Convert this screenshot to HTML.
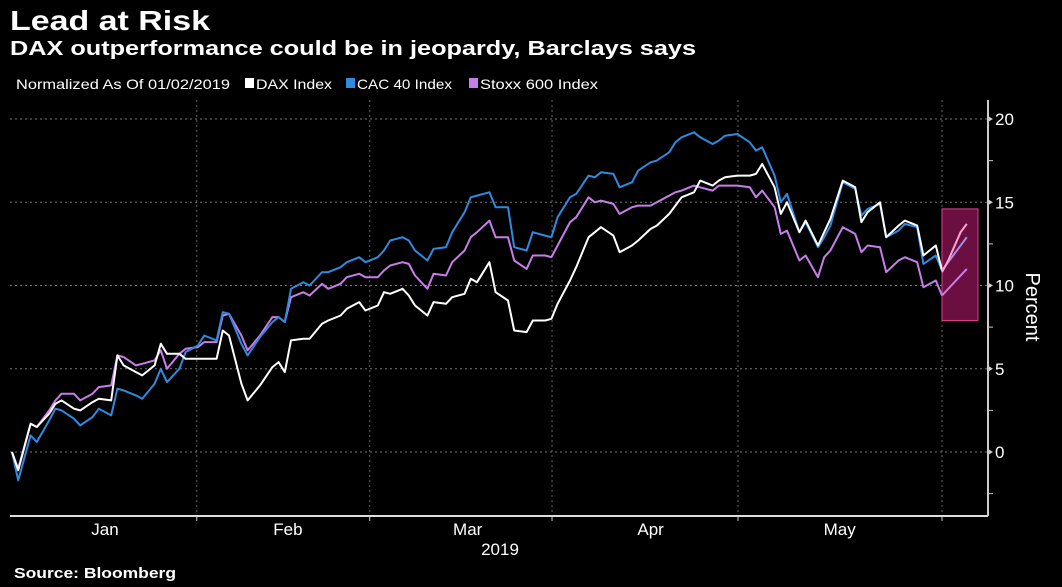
<!DOCTYPE html>
<html><head><meta charset="utf-8"><style>
html,body{margin:0;padding:0;background:#000;}
svg{display:block;}
text{font-family:"Liberation Sans",sans-serif;fill:#fff;}
</style></head><body>
<svg id="chart" width="1062" height="587" viewBox="0 0 1062 587" xmlns="http://www.w3.org/2000/svg">
<rect width="1062" height="587" fill="#000"/>
<text x="10" y="30" font-size="28" font-weight="bold" textLength="200" lengthAdjust="spacingAndGlyphs">Lead at Risk</text>
<text x="10" y="55" font-size="20" font-weight="bold" textLength="686" lengthAdjust="spacingAndGlyphs">DAX outperformance could be in jeopardy, Barclays says</text>
<g>
<text x="16" y="89" font-size="14" textLength="214" lengthAdjust="spacingAndGlyphs">Normalized As Of 01/02/2019</text>
<rect x="245" y="78" width="9" height="10" fill="#fff"/>
<text x="256" y="89" font-size="14" textLength="76" lengthAdjust="spacingAndGlyphs">DAX Index</text>
<rect x="346" y="78" width="9" height="10" fill="#2f8ae0"/>
<text x="357" y="89" font-size="14" textLength="95" lengthAdjust="spacingAndGlyphs">CAC 40 Index</text>
<rect x="469" y="78" width="9" height="10" fill="#c77dea"/>
<text x="480" y="89" font-size="14" textLength="118" lengthAdjust="spacingAndGlyphs">Stoxx 600 Index</text>
</g>
<g id="grid"></g>
<g id="series"></g>
<g id="axes"></g>
<text x="500" y="555" font-size="17" text-anchor="middle">2019</text>
<text transform="translate(1026,307) rotate(90)" font-size="20" text-anchor="middle">Percent</text>
<text x="14" y="578" font-size="15" font-weight="bold" textLength="162" lengthAdjust="spacingAndGlyphs">Source: Bloomberg</text>
</svg>
<script>
const days=[2,3,5,6,8,9,10,12,13,15,16,18,19,20,22,23,25,26,27,29,30,32,33,35,36,37,39,40,42,44,45,46,47,49,50,52,53,55,56,58,59,61,62,63,65,66,67,69,70,72,73,75,76,77,79,80,82,83,85,86,88,89,90,92,93,95,96,97,99,100,102,103,105,106,108,109,110,112,113,115,116,117,119,121,122,123,125,126,127,129,130,132,133,134,136,138,139,140,142,143,145,146,148,149,151,152];
const daxVals=[0,-1.1,1.7,1.5,2.3,2.9,3.1,2.6,2.5,3.0,3.2,3.1,5.8,5.2,4.8,4.6,5.2,6.5,5.9,5.9,5.6,5.6,5.6,5.6,7.3,7.0,4.1,3.1,4.0,5.1,5.4,4.8,6.7,6.8,6.8,7.7,7.9,8.2,8.6,9.0,8.5,8.8,9.6,9.5,9.8,9.4,8.8,8.2,9.0,8.9,9.3,9.5,10.4,10.2,11.4,9.6,9.1,7.3,7.2,7.9,7.9,8.0,8.9,10.3,11.1,12.9,13.2,13.5,13.0,12.0,12.4,12.7,13.4,13.6,14.3,14.8,15.3,15.6,16.3,16.0,16.3,16.5,16.6,16.6,16.7,17.3,15.9,14.3,15.0,13.2,13.9,12.4,13.2,14.0,16.3,15.9,13.8,14.4,15.0,12.9,13.6,13.9,13.6,11.8,12.4,10.9];
const cacVals=[0,-1.7,1.0,0.6,1.9,2.6,2.5,2.0,1.6,2.1,2.6,2.2,3.8,3.7,3.4,3.2,4.1,5.0,4.2,5.0,6.0,6.4,7.0,6.7,8.4,8.3,6.5,5.8,6.9,7.8,8.1,7.8,9.8,10.2,10.0,10.8,10.8,11.1,11.4,11.7,11.4,11.7,12.1,12.7,12.9,12.7,12.1,11.5,12.2,12.3,13.2,14.4,15.3,15.4,15.6,14.7,14.7,12.3,12.1,13.2,13.0,12.9,14.1,15.3,15.5,16.6,16.5,16.8,16.7,15.9,16.2,16.9,17.4,17.5,18.0,18.6,18.9,19.2,18.9,18.5,18.7,19.0,19.1,18.6,18.1,18.3,16.6,15.0,15.5,13.2,13.8,12.3,12.9,13.6,16.2,15.8,14.2,14.6,14.9,12.9,13.3,13.7,13.5,11.3,11.8,10.9];
const stoxxVals=[0,-1.0,1.7,1.5,2.5,3.1,3.5,3.5,3.1,3.5,3.9,4.0,5.8,5.7,5.2,5.3,5.5,6.1,5.0,5.9,6.2,6.3,6.6,6.6,8.2,8.3,7.0,6.1,7.0,8.1,8.1,7.8,9.3,9.6,9.4,10.1,9.8,10.1,10.5,10.7,10.5,10.5,10.9,11.2,11.4,11.3,10.6,9.8,10.7,10.6,11.4,12.1,12.9,13.2,13.9,12.9,12.9,11.5,11.0,11.8,11.8,11.7,12.4,13.8,14.1,15.3,15.0,15.1,14.9,14.3,14.7,14.8,14.8,15.0,15.4,15.6,15.7,16.0,15.9,15.7,16.0,16.0,16.0,15.9,15.3,15.7,14.7,13.1,13.3,11.5,11.8,10.5,11.7,12.1,13.5,13.1,12.0,12.4,12.3,10.8,11.5,11.7,11.4,9.9,10.3,9.4];
const projDays=[152,153,155,156];
const projDax=[10.8,11.5,13.2,13.7];
const projCacDays=[152,156];
const projCac=[10.9,12.9];
const projStoxxDays=[152,156];
const projStoxx=[9.4,11.0];
const highlightDays=[152,157.8];
const highlightRange=[7.9,14.6];
const monthTickDays=[31.8,59.7,89.1,119.1,152];
const monthLabelDays=[17,46.5,75.5,105,135.5];
const monthLabels=["Jan","Feb","Mar","Apr","May"];
const yTicks=[0,5,10,15,20];
const yMinor=[-2.5,2.5,7.5,12.5,17.5];

const X0=12,PX_PER_DAY=6.2,Y0=452,PX_PER_UNIT=16.65;
const LEFT=10,RIGHT=988,TOP=100,BOTTOM=516;
function xs(d){return X0+(d-2)*PX_PER_DAY;}
function ys(v){return Y0-v*PX_PER_UNIT;}
const NS="http://www.w3.org/2000/svg";
function mk(tag,attrs,parent){const e=document.createElementNS(NS,tag);for(const k in attrs)e.setAttribute(k,attrs[k]);parent.appendChild(e);return e;}
const grid=document.getElementById('grid'),series=document.getElementById('series'),axes=document.getElementById('axes');

yTicks.forEach(t=>{
  const l=mk('line',{x1:LEFT,x2:RIGHT,y1:ys(t),y2:ys(t),stroke:'#777','stroke-width':1,'stroke-dasharray':'2,3'},grid);
  
  
  const tk=mk('path',{d:`M${RIGHT},${ys(t)-3} L${RIGHT+5},${ys(t)} L${RIGHT},${ys(t)+3}Z`,fill:'#ccc'},axes);
  
  
  const tx=mk('text',{x:RIGHT+7,y:ys(t)+6,'font-size':17},axes);
  tx.textContent=t;
  
  
});
yMinor.forEach(t=>{
  const tk=mk('line',{x1:RIGHT,x2:RIGHT+5,y1:ys(t),y2:ys(t),stroke:'#ccc','stroke-width':1},axes);
  
  
});
monthTickDays.forEach(d=>{
  const l=mk('line',{x1:xs(d),x2:xs(d),y1:TOP,y2:BOTTOM,stroke:'#666','stroke-width':1,'stroke-dasharray':'2,3'},grid);
  
  
  const tk=mk('line',{x1:xs(d),x2:xs(d),y1:BOTTOM,y2:BOTTOM+5,stroke:'#ccc','stroke-width':1},axes);
  
  
});
monthLabelDays.forEach((d,i)=>{
  const tx=mk('text',{x:xs(d),y:535,'font-size':17,'text-anchor':'middle'},axes);
  tx.textContent=monthLabels[i];
  
  
});
const xa=mk('line',{x1:LEFT,x2:RIGHT,y1:BOTTOM,y2:BOTTOM,stroke:'#ddd','stroke-width':2},axes);


const ya=mk('line',{x1:RIGHT,x2:RIGHT,y1:TOP,y2:BOTTOM,stroke:'#ccc','stroke-width':2},axes);



const box=mk('rect',{x:xs(highlightDays[0]),y:ys(highlightRange[1]),width:xs(highlightDays[1])-xs(highlightDays[0]),height:ys(highlightRange[0])-ys(highlightRange[1]),fill:'#6a0f40',stroke:'#e0408f','stroke-width':1},series);



function line(dd,vals,color,w,name){
  const d=vals.map((v,i)=>(i?'L':'M')+xs(dd[i]).toFixed(1)+','+ys(v).toFixed(1)).join(' ');
  const p=mk('path',{d:d,fill:'none',stroke:color,'stroke-width':w,'stroke-linejoin':'round'},series);
  
  
}
line(days,stoxxVals,'#c77dea',2,'stoxx-600-line');
line(days,cacVals,'#2f8ae0',2,'cac-40-line');
line(days,daxVals,'#ffffff',2,'dax-line');
line(projStoxxDays,projStoxx,'#c77dea',2,'stoxx-600-projection');
line(projCacDays,projCac,'#a98ee6',2,'cac-40-projection');
line(projDays,projDax,'#ffa3d2',2,'dax-projection');
</script>
</body></html>
